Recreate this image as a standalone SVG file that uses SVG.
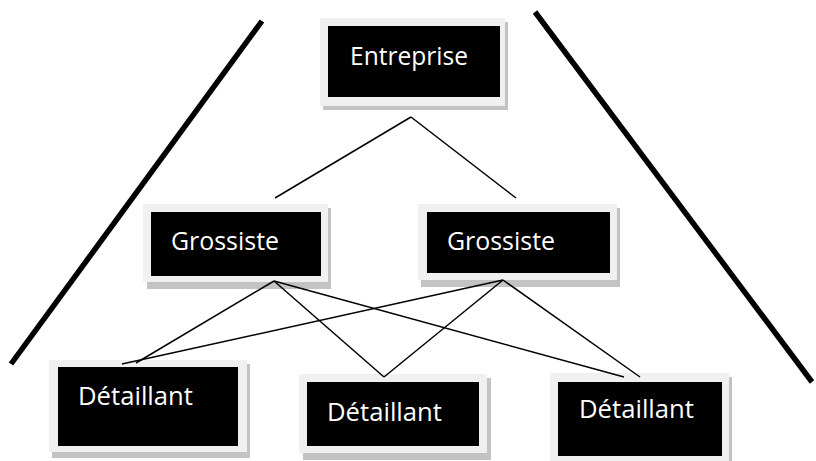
<svg xmlns="http://www.w3.org/2000/svg" width="816" height="461" viewBox="0 0 816 461">
<style>
.sh{fill:#c3c3c3}
.fr{fill:#f0f0f0}
.bk{fill:#000}
.t{font-family:"Open Sans","Noto Sans","Liberation Sans",sans-serif;font-size:25px;fill:#fff}
.c{stroke:#000;stroke-width:1.5;fill:none}
.big{stroke:#000;stroke-width:5.5;fill:none}
</style>
<rect width="816" height="461" fill="#fff"/>
<g id="frame-lines">
<line class="big" x1="262" y1="21" x2="11" y2="364"/>
<line class="big" x1="535" y1="12" x2="812" y2="382"/>
</g>
<g id="entreprise">
<rect class="sh" x="323" y="22" width="185" height="88"/>
<rect class="fr" x="320" y="18" width="185" height="88"/>
<rect class="bk" x="328" y="26" width="172" height="71"/>
<text class="t" x="350" y="65" textLength="118" lengthAdjust="spacingAndGlyphs">Entreprise</text>
</g>
<g id="grossiste1">
<rect class="sh" x="147" y="208" width="184" height="81"/>
<rect class="fr" x="143" y="204" width="185" height="78"/>
<rect class="bk" x="151" y="212" width="170" height="64"/>
<text class="t" x="171" y="250" textLength="108" lengthAdjust="spacingAndGlyphs">Grossiste</text>
</g>
<g id="grossiste2">
<rect class="sh" x="421" y="208" width="199" height="79"/>
<rect class="fr" x="418" y="204" width="199" height="76"/>
<rect class="bk" x="427" y="212" width="183" height="61"/>
<text class="t" x="447" y="250" textLength="108" lengthAdjust="spacingAndGlyphs">Grossiste</text>
</g>
<g id="detaillant1">
<rect class="sh" x="52" y="364" width="198" height="94"/>
<rect class="fr" x="49" y="360" width="198" height="92"/>
<rect class="bk" x="58" y="367" width="180" height="79"/>
<text class="t" x="78" y="405" textLength="115" lengthAdjust="spacingAndGlyphs">Détaillant</text>
</g>
<g id="detaillant2">
<rect class="sh" x="303" y="378" width="188" height="82"/>
<rect class="fr" x="299" y="374" width="188" height="79"/>
<rect class="bk" x="307" y="382" width="172" height="64"/>
<text class="t" x="327" y="421" textLength="115" lengthAdjust="spacingAndGlyphs">Détaillant</text>
</g>
<g id="detaillant3">
<rect class="sh" x="553" y="377" width="179" height="90"/>
<rect class="fr" x="550" y="373" width="179" height="90"/>
<rect class="bk" x="558" y="382" width="164" height="74"/>
<text class="t" x="579" y="418" textLength="115" lengthAdjust="spacingAndGlyphs">Détaillant</text>
</g>
<g id="connectors">
<line class="c" x1="411" y1="117" x2="275" y2="198"/>
<line class="c" x1="411" y1="117" x2="516" y2="198"/>
<line class="c" x1="274" y1="281" x2="136" y2="363"/>
<line class="c" x1="274" y1="281" x2="384" y2="377"/>
<line class="c" x1="274" y1="281" x2="624" y2="377"/>
<line class="c" x1="503" y1="280" x2="122" y2="364"/>
<line class="c" x1="503" y1="280" x2="384" y2="377"/>
<line class="c" x1="503" y1="280" x2="640" y2="377"/>
</g>
</svg>
